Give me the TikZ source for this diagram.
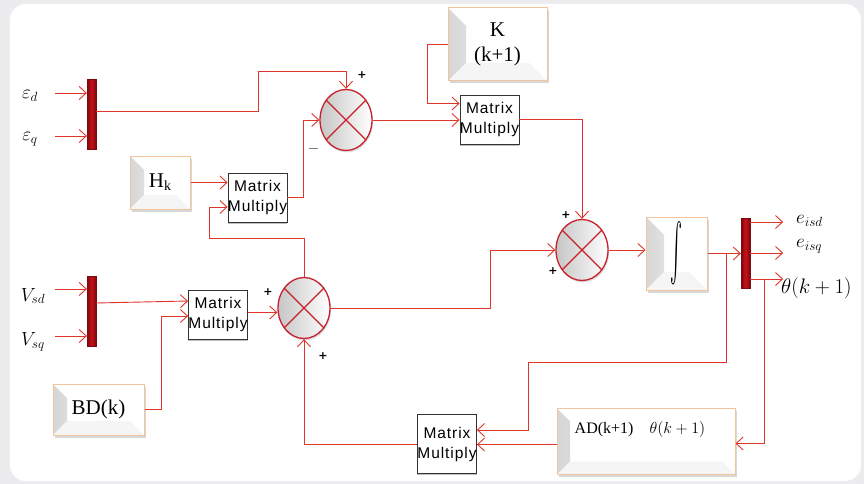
\RequirePackage{fix-cm}
\documentclass[tikz,border=0pt]{standalone}
\usepackage{fontspec}
\setmainfont{Liberation Serif}
\newfontfamily\mmfont[LetterSpace=6]{Liberation Sans}
\newfontfamily\sgnfont{DejaVu Sans}
\usetikzlibrary{arrows.meta,shapes.geometric,shadows}
\definecolor{linered}{HTML}{E0352B}
\definecolor{sumred}{HTML}{C8202A}
\definecolor{muxred}{HTML}{C81018}
\definecolor{muxdark}{HTML}{7A0A0E}
\definecolor{peach}{HTML}{F2C49B}
\definecolor{bggray}{HTML}{ECECEE}
\begin{document}
\begin{tikzpicture}[x=1pt,y=-1pt,
 sigline/.style={draw=linered, line width=0.9pt, -{Straight Barb[length=7pt,width=13pt]}},
 mux/.style={rectangle, inner sep=0, minimum width=9pt, minimum height=70pt, left color=muxdark, right color=muxdark, middle color=muxred, draw=muxdark, line width=0.3pt},
 sumj/.style={ellipse, inner sep=0, draw=sumred, line width=1.3pt, left color=gray!45, right color=white, minimum width=52pt, minimum height=61pt, drop shadow={shadow xshift=1pt, shadow yshift=-2pt, opacity=0.25}},
 mmul/.style={rectangle, draw=gray!40!black, line width=0.8pt, fill=white, inner sep=0, minimum width=59pt, minimum height=49pt, align=center, font=\mmfont\fontsize{15.5}{20}\selectfont, drop shadow={shadow xshift=0pt, shadow yshift=-1.5pt, opacity=0.5}},
 bev/.style={rectangle, draw=peach, line width=1pt, fill=white, inner sep=0, align=center,
   path picture={
     \shade[left color=gray!32, right color=gray!4] (path picture bounding box.north west) -- ([shift={(#1,-#1)}]path picture bounding box.north west) -- ([shift={(#1,#1)}]path picture bounding box.south west) -- (path picture bounding box.south west) -- cycle;
     \fill[gray!8] (path picture bounding box.south west) -- ([shift={(#1,#1)}]path picture bounding box.south west) -- ([shift={(-#1,#1)}]path picture bounding box.south east) -- (path picture bounding box.south east) -- cycle;
   },
   drop shadow={shadow xshift=1.5pt, shadow yshift=-2.5pt, opacity=0.3}},
 bev/.default=14pt,
 lbl/.style={font=\fontsize{19}{19}\selectfont, inner sep=0},
 sgn/.style={font=\sgnfont\bfseries\fontsize{11}{11}\selectfont, inner sep=0}
]
\useasboundingbox (0,0) rectangle (864,484);
\fill[bggray] (0,0) rectangle (864,484);
\fill[white, rounded corners=16pt] (10,4) rectangle (861,481);

% blocks
\node[mux] (m1) at (91.5,114.5) {};
\node[mux] (m3) at (91.5,311.5) {};
\node[mux] (m2) at (745.5,253) {};
\node[sumj] (s1) at (346,120) {};
\node[sumj] (s3) at (582,250) {};
\node[sumj] (s2) at (304,308) {};
\foreach \s in {s1,s2,s3}{\draw[sumred, line width=1.3pt] (\s.45) -- (\s.225) (\s.135) -- (\s.315);}
\node[bev, minimum width=60pt, minimum height=53pt, font=\fontsize{21}{21}\selectfont] (hk) at (160,182.5) {H\raisebox{-3pt}{\fontsize{14}{14}\selectfont k}};
\node[bev=18pt, minimum width=99pt, minimum height=73pt, font=\fontsize{21}{25}\selectfont] (kb) at (497.5,44.5) {K\\(k+1)};
\node[bev, minimum width=91pt, minimum height=51pt, font=\fontsize{21}{21}\selectfont] (bd) at (98.5,409.5) {BD(k)};
\node[bev=18pt, minimum width=61pt, minimum height=73pt] (int) at (676.5,253.5) {\resizebox{12pt}{46pt}{$\int$}};
\node[bev=13pt, minimum width=178pt, minimum height=66pt] (ad) at (646,441.5) {};
\node[font=\fontsize{16}{16}\selectfont, inner sep=0] (adt) at (640,429) {AD(k+1)\quad$\theta(k+1)$};
\node[mmul] (mm1) at (257.5,197.5) {Matrix\\Multiply};
\node[mmul] (mm2) at (489.5,119.5) {Matrix\\Multiply};
\node[mmul] (mm4) at (218,314.5) {Matrix\\Multiply};
\node[mmul, minimum height=59pt] (mm3) at (447,444) {Matrix\\Multiply};

% labels
\node[lbl] (led) at (30,96) {$\varepsilon_d$};
\node[lbl] (leq) at (30,139) {$\varepsilon_q$};
\node[lbl] (lvd) at (33,296) {$V_{sd}$};
\node[lbl] (lvq) at (33,342) {$V_{sq}$};
\node[lbl, anchor=west] (le1) at (796,221) {$e_{isd}$};
\node[lbl, anchor=west] (le2) at (796,246) {$e_{isq}$};
\node[lbl, anchor=west, font=\fontsize{21}{21}\selectfont] (lth) at (781,288) {$\theta(k+1)$};

% signs
\node[sgn] (p1) at (362,75) {+};
\node[inner sep=0] (n1) at (313,148) {\textcolor{gray}{\rule{9pt}{1pt}}};
\node[sgn] (p3a) at (566,215) {+};
\node[sgn] (p3b) at (553,271) {+};
\node[sgn] (p2a) at (268,292) {+};
\node[sgn] (p2b) at (323,356) {+};

% inputs
\coordinate (ied) at (55,93);
\coordinate (ieq) at (55,136);
\coordinate (ivd) at (55,289);
\coordinate (ivq) at (55,336);
\draw[sigline] (ied) -- (ied -| m1.west);
\draw[sigline] (ieq) -- (ieq -| m1.west);
\draw[sigline] (ivd) -- (ivd -| m3.west);
\draw[sigline] (ivq) -- (ivq -| m3.west);

% connectors
\draw[sigline] ([yshift=3.5pt]m1.east) -| (258,71) -| (s1.north);
\draw[sigline] (mm1.east) -| ([xshift=-16pt]s1.west) -- (s1.west);
\draw[sigline] (hk.east) -- (hk.east -| mm1.west);
\draw[sigline] (s2.north) |- (209,238) |- ([yshift=-9.5pt]mm1.west);
\draw[sigline] (s1.east) -- (s1.east -| mm2.west);
\draw[sigline] (kb.west) -- ++(-20,0) |- ([yshift=16pt]mm2.west);
\draw[sigline] (mm2.east) -| (s3.north);
\draw[sigline] (s2.east) -- (490,308) |- (s3.west);
\draw[sigline] (s3.east) -- (s3.east -| int.west);
\draw[sigline] (int.east) -- (int.east -| m2.west);
\draw[sigline] ([yshift=31pt]m2.east) -- ++(33,0);
\draw[sigline] (m2.east) -- ++(33,0);
\draw[sigline] ([yshift=-26pt]m2.east) -- ++(33,0);
\coordinate (br1) at (726,253.5);
\draw[sigline] (br1) -- (726,362) -- (528,362) |- ([yshift=14pt]mm3.east);
\coordinate (br2) at (764,279);
\draw[sigline] (br2) |- ([yshift=-2pt]ad.east);
\draw[sigline] ([yshift=-3pt]ad.west) -- ([yshift=-3pt]ad.west -| mm3.east);
\draw[sigline] (mm3.west) -| (s2.south);
\draw[sigline] ([yshift=8.5pt]m3.east) -- ([yshift=13.5pt]mm4.west);
\draw[sigline] (bd.east) -- (161,409.5) |- ([yshift=-1.5pt]mm4.west);
\draw[sigline] ([yshift=2pt]mm4.east) -- ([yshift=2pt]mm4.east -| s2.west);
\end{tikzpicture}
\end{document}
